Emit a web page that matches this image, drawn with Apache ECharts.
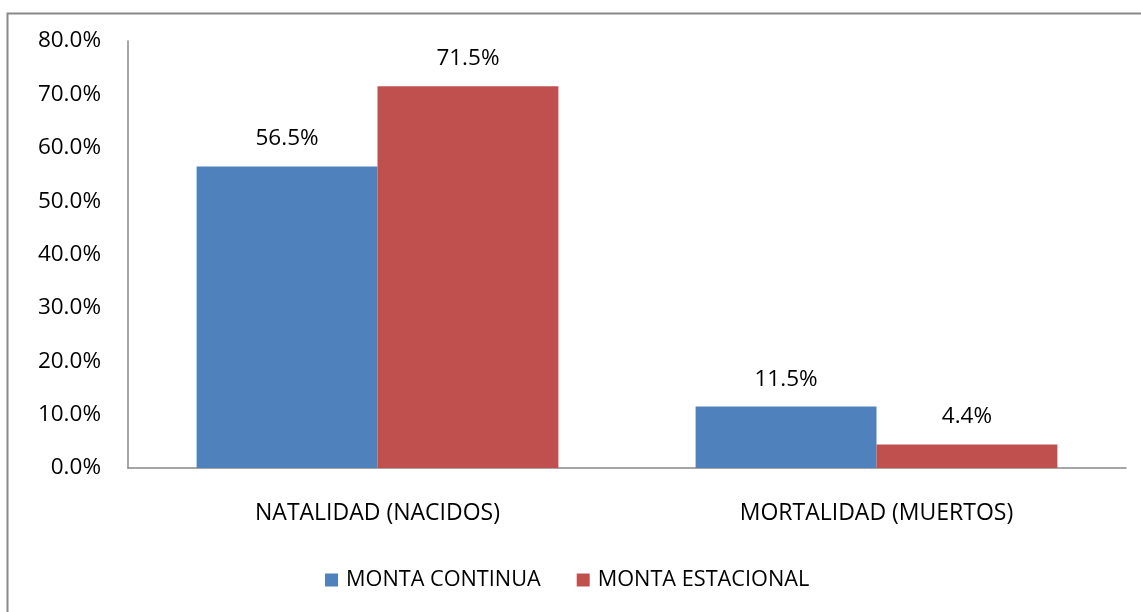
<!DOCTYPE html>
<html><head><meta charset="utf-8">
<script src="https://cdn.jsdelivr.net/npm/echarts@6/dist/echarts.min.js"></script>
<style>html,body{margin:0;padding:0;background:#fff}#c{width:1141px;height:612px}</style>
</head><body><div id="c"></div>
<script>
const categories = ['NATALIDAD (NACIDOS)', 'MORTALIDAD (MUERTOS)'];
const seriesNames = ['MONTA CONTINUA', 'MONTA ESTACIONAL'];
const montaContinua = [56.5, 11.5];
const montaEstacional = [71.5, 4.4];
const colors = ['#4F81BD', '#C0504D'];
const FONT = 'Open Sans';

const chart = echarts.init(document.getElementById('c'));
const lbl = {show: true, position: 'top', distance: 16, color: '#000', fontFamily: FONT, fontSize: 22.5, formatter: p => p.value.toFixed(1) + '%'};
chart.setOption({
  animation: false,
  graphic: [{type: 'rect', shape: {x: 7.5, y: 13.5, width: 2000, height: 2000}, style: {fill: 'none', stroke: '#898989', lineWidth: 2}}],
  grid: {left: 128, right: 15, top: 41, bottom: 144, containLabel: false},
  legend: {
    bottom: 16, left: 320, itemWidth: 13, itemHeight: 13, itemGap: 36,
    icon: 'rect', textStyle: {fontFamily: FONT, fontSize: 21.7, color: '#000', padding: [0, 0, 0, 3]},
    data: seriesNames
  },
  xAxis: {
    type: 'category', data: categories,
    axisLine: {lineStyle: {color: '#888', width: 1.5}}, axisTick: {show: false},
    axisLabel: {color: '#000', fontFamily: FONT, fontSize: 23, margin: 34}
  },
  yAxis: {
    type: 'value', min: 0, max: 80, interval: 10,
    axisLine: {show: true, lineStyle: {color: '#888', width: 1.5}}, axisTick: {show: false},
    splitLine: {show: false},
    axisLabel: {color: '#000', fontFamily: FONT, fontSize: 22.5, margin: 27, formatter: v => v.toFixed(1) + '%'}
  },
  series: [
    {name: seriesNames[0], type: 'bar', data: montaContinua, itemStyle: {color: colors[0]}, barGap: '0%', barCategoryGap: '27.5%', label: lbl},
    {name: seriesNames[1], type: 'bar', data: montaEstacional, itemStyle: {color: colors[1]}, barGap: '0%', barCategoryGap: '27.5%', label: lbl}
  ]
});
</script></body></html>
